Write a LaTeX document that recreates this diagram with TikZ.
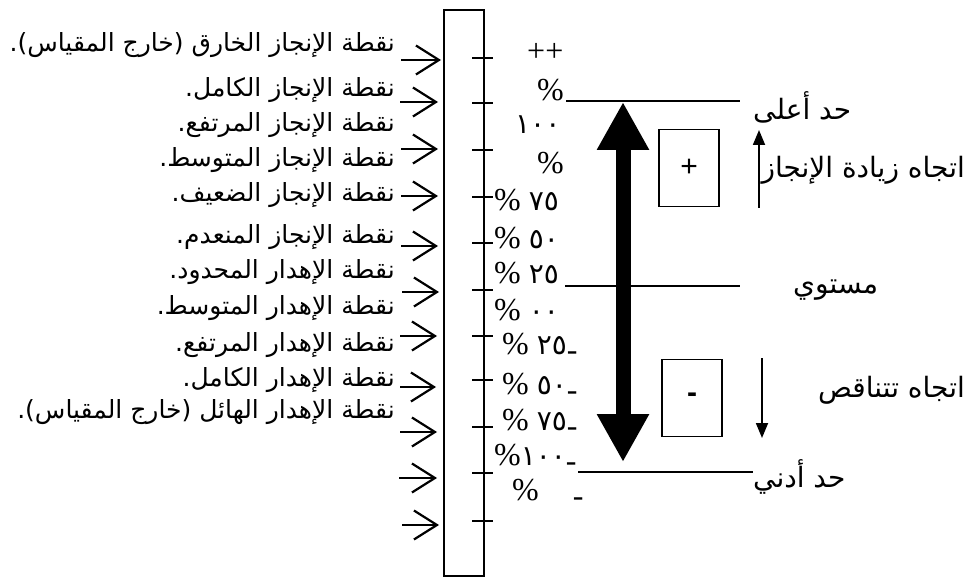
\documentclass[tikz,border=0pt]{standalone}
\usepackage{fontspec}
\setmainfont{Liberation Serif}
\newfontfamily\arabicfont[Script=Arabic]{DejaVu Sans}
\newfontfamily\digitfont{DejaVu Sans}
\newfontfamily\plainsans{Liberation Sans}
\TeXXeTstate=1
\usetikzlibrary{arrows.meta}
\def\ard#1{{\digitfont\fontsize{28}{30}\selectfont #1}}
\def\lowdash{\raisebox{-0.2em}{-}}
\tikzset{
	lbl/.style={anchor=east, inner sep=0pt, font=\arabicfont\fontsize{25}{28}\selectfont},
	rlbl/.style={inner sep=0pt, font=\arabicfont\fontsize{28}{30}\selectfont},
	pct/.style={anchor=west, inner sep=0pt, font=\fontsize{32}{34}\selectfont},
	pointer/.style={line width=2.2, -{Straight Barb[length=23pt,width=29pt]}},
	tick/.style={line width=2},
	limit/.style={line width=1.2},
	signbox/.style={draw, line width=1.4, minimum width=60pt, minimum height=77pt, inner sep=0pt, font=\plainsans\fontsize{30}{30}\selectfont},
	thinarrow/.style={line width=1.8, -{Triangle[length=15pt,width=12pt]}}
}
\begin{document}
\begin{tikzpicture}[x=1pt, y=-1pt]
		%%%%% START %%%%%
		\useasboundingbox (0,0) rectangle (971,577);
		
		\node[draw, line width=2, minimum width=40pt, minimum height=566pt, inner sep=0pt, anchor=north west] (scale) at (443,9) {};
		
		% ticks
		\draw[tick] (472,58) -- (493,58);
		\draw[tick] (472,103) -- (493,103);
		\draw[tick] (472,150) -- (493,150);
		\draw[tick] (472,197) -- (493,197);
		\draw[tick] (472,243) -- (493,243);
		\draw[tick] (472,290) -- (493,290);
		\draw[tick] (472,336) -- (493,336);
		\draw[tick] (472,380) -- (493,380);
		\draw[tick] (472,427) -- (493,427);
		\draw[tick] (472,473) -- (493,473);
		\draw[tick] (472,521) -- (493,521);
		
		% arrows into the scale
		\coordinate (t1) at (401,60);
		\coordinate (t2) at (400,102);
		\coordinate (t3) at (401,149);
		\coordinate (t4) at (401,196);
		\coordinate (t5) at (401,246);
		\coordinate (t6) at (402,292);
		\coordinate (t7) at (400,336);
		\coordinate (t8) at (400,387);
		\coordinate (t9) at (400,432);
		\coordinate (t10) at (399,478);
		\coordinate (t11) at (402,525);
		\draw[pointer] (t1) -- ([xshift=-2pt]t1 -| scale.west);
		\draw[pointer] (t2) -- ([xshift=-5pt]t2 -| scale.west);
		\draw[pointer] (t3) -- ([xshift=-5pt]t3 -| scale.west);
		\draw[pointer] (t4) -- ([xshift=-5pt]t4 -| scale.west);
		\draw[pointer] (t5) -- ([xshift=-5pt]t5 -| scale.west);
		\draw[pointer] (t6) -- ([xshift=-4pt]t6 -| scale.west);
		\draw[pointer] (t7) -- ([xshift=-6pt]t7 -| scale.west);
		\draw[pointer] (t8) -- ([xshift=-7pt]t8 -| scale.west);
		\draw[pointer] (t9) -- ([xshift=-6pt]t9 -| scale.west);
		\draw[pointer] (t10) -- ([xshift=-6pt]t10 -| scale.west);
		\draw[pointer] (t11) -- ([xshift=-4pt]t11 -| scale.west);
		
		% levels
		\node[lbl] (l1) at (395,45) {\beginR نقطة الإنجاز الخارق (خارج المقياس).\endR};
		\node[lbl] (l2) at (395,90) {\beginR نقطة الإنجاز الكامل.\endR};
		\node[lbl] (l3) at (395,125) {\beginR نقطة الإنجاز المرتفع.\endR};
		\node[lbl] (l4) at (395,160) {\beginR نقطة الإنجاز المتوسط.\endR};
		\node[lbl] (l5) at (395,195) {\beginR نقطة الإنجاز الضعيف.\endR};
		\node[lbl] (l6) at (395,237) {\beginR نقطة الإنجاز المنعدم.\endR};
		\node[lbl] (l7) at (395,272) {\beginR نقطة الإهدار المحدود.\endR};
		\node[lbl] (l8) at (395,308) {\beginR نقطة الإهدار المتوسط.\endR};
		\node[lbl] (l9) at (395,345) {\beginR نقطة الإهدار المرتفع.\endR};
		\node[lbl] (l10) at (395,380) {\beginR نقطة الإهدار الكامل.\endR};
		\node[lbl] (l11) at (395,412) {\beginR نقطة الإهدار الهائل (خارج المقياس).\endR};
		
		% percentages
		\node[pct] (p1) at (527,52) {++};
		\node[pct] (p2) at (537,90) {\%};
		\node[pct] (p3) at (515,125) {\ard{١٠٠}};
		\node[pct] (p4) at (537,163) {\%};
		\node[pct] (p5) at (494,200) {\%\ \ard{٧٥}};
		\node[pct] (p6) at (494,238) {\%\ \ard{٥٠}};
		\node[pct] (p7) at (494,273) {\%\ \ard{٢٥}};
		\node[pct] (p8) at (494,310) {\%\ \ard{٠٠}};
		\node[pct] (p9) at (502,347) {\%\ \ard{٢٥}\lowdash};
		\node[pct] (p10) at (502,387) {\%\ \ard{٥٠}\lowdash};
		\node[pct] (p11) at (502,423) {\%\ \ard{٧٥}\lowdash};
		\node[pct] (p12) at (494,458) {\%\ard{١٠٠}\lowdash};
		\node[pct] (p13) at (512,493) {\%\hspace{34pt}\lowdash};
		
		% limits
		\node[rlbl, anchor=west] (upper) at (753,107) {\beginR حد أعلى\endR};
		\node[rlbl, anchor=west] (middle) at (793,290) {\beginR مستوي\endR};
		\node[rlbl, anchor=west] (lower) at (753,477) {\beginR حد أدني\endR};
		\coordinate (u0) at (566,101);
		\coordinate (m0) at (565,286);
		\coordinate (d0) at (578,472);
		\draw[limit] (u0) -- (740,101);
		\draw[limit] (m0) -- (740,286);
		\draw[limit] (d0) -- (d0 -| lower.west);
		
		% big double arrow
		\coordinate (top) at (623,102);
		\coordinate (bot) at (623,462);
		\draw[line width=15, {Triangle[length=48pt,width=49pt]}-{Triangle[length=48pt,width=49pt]}] (bot) -- (top);
		
		\node[signbox] (plus) at (689,168) {+};
		\node[signbox] (minus) at (692,398) {\textbf{-}};
		
		\coordinate (up0) at (759,208);
		\coordinate (up1) at (759,130);
		\coordinate (dn0) at (762,358);
		\coordinate (dn1) at (762,438);
		\draw[thinarrow] (up0) -- (up1);
		\draw[thinarrow] (dn0) -- (dn1);
		
		\node[rlbl, anchor=east] (more) at (965,170) {\beginR اتجاه زيادة الإنجاز\endR};
		\node[rlbl, anchor=east] (less) at (965,390) {\beginR اتجاه تتناقص\endR};
		
		%%%%% END %%%%%
	\end{tikzpicture}
\end{document}
